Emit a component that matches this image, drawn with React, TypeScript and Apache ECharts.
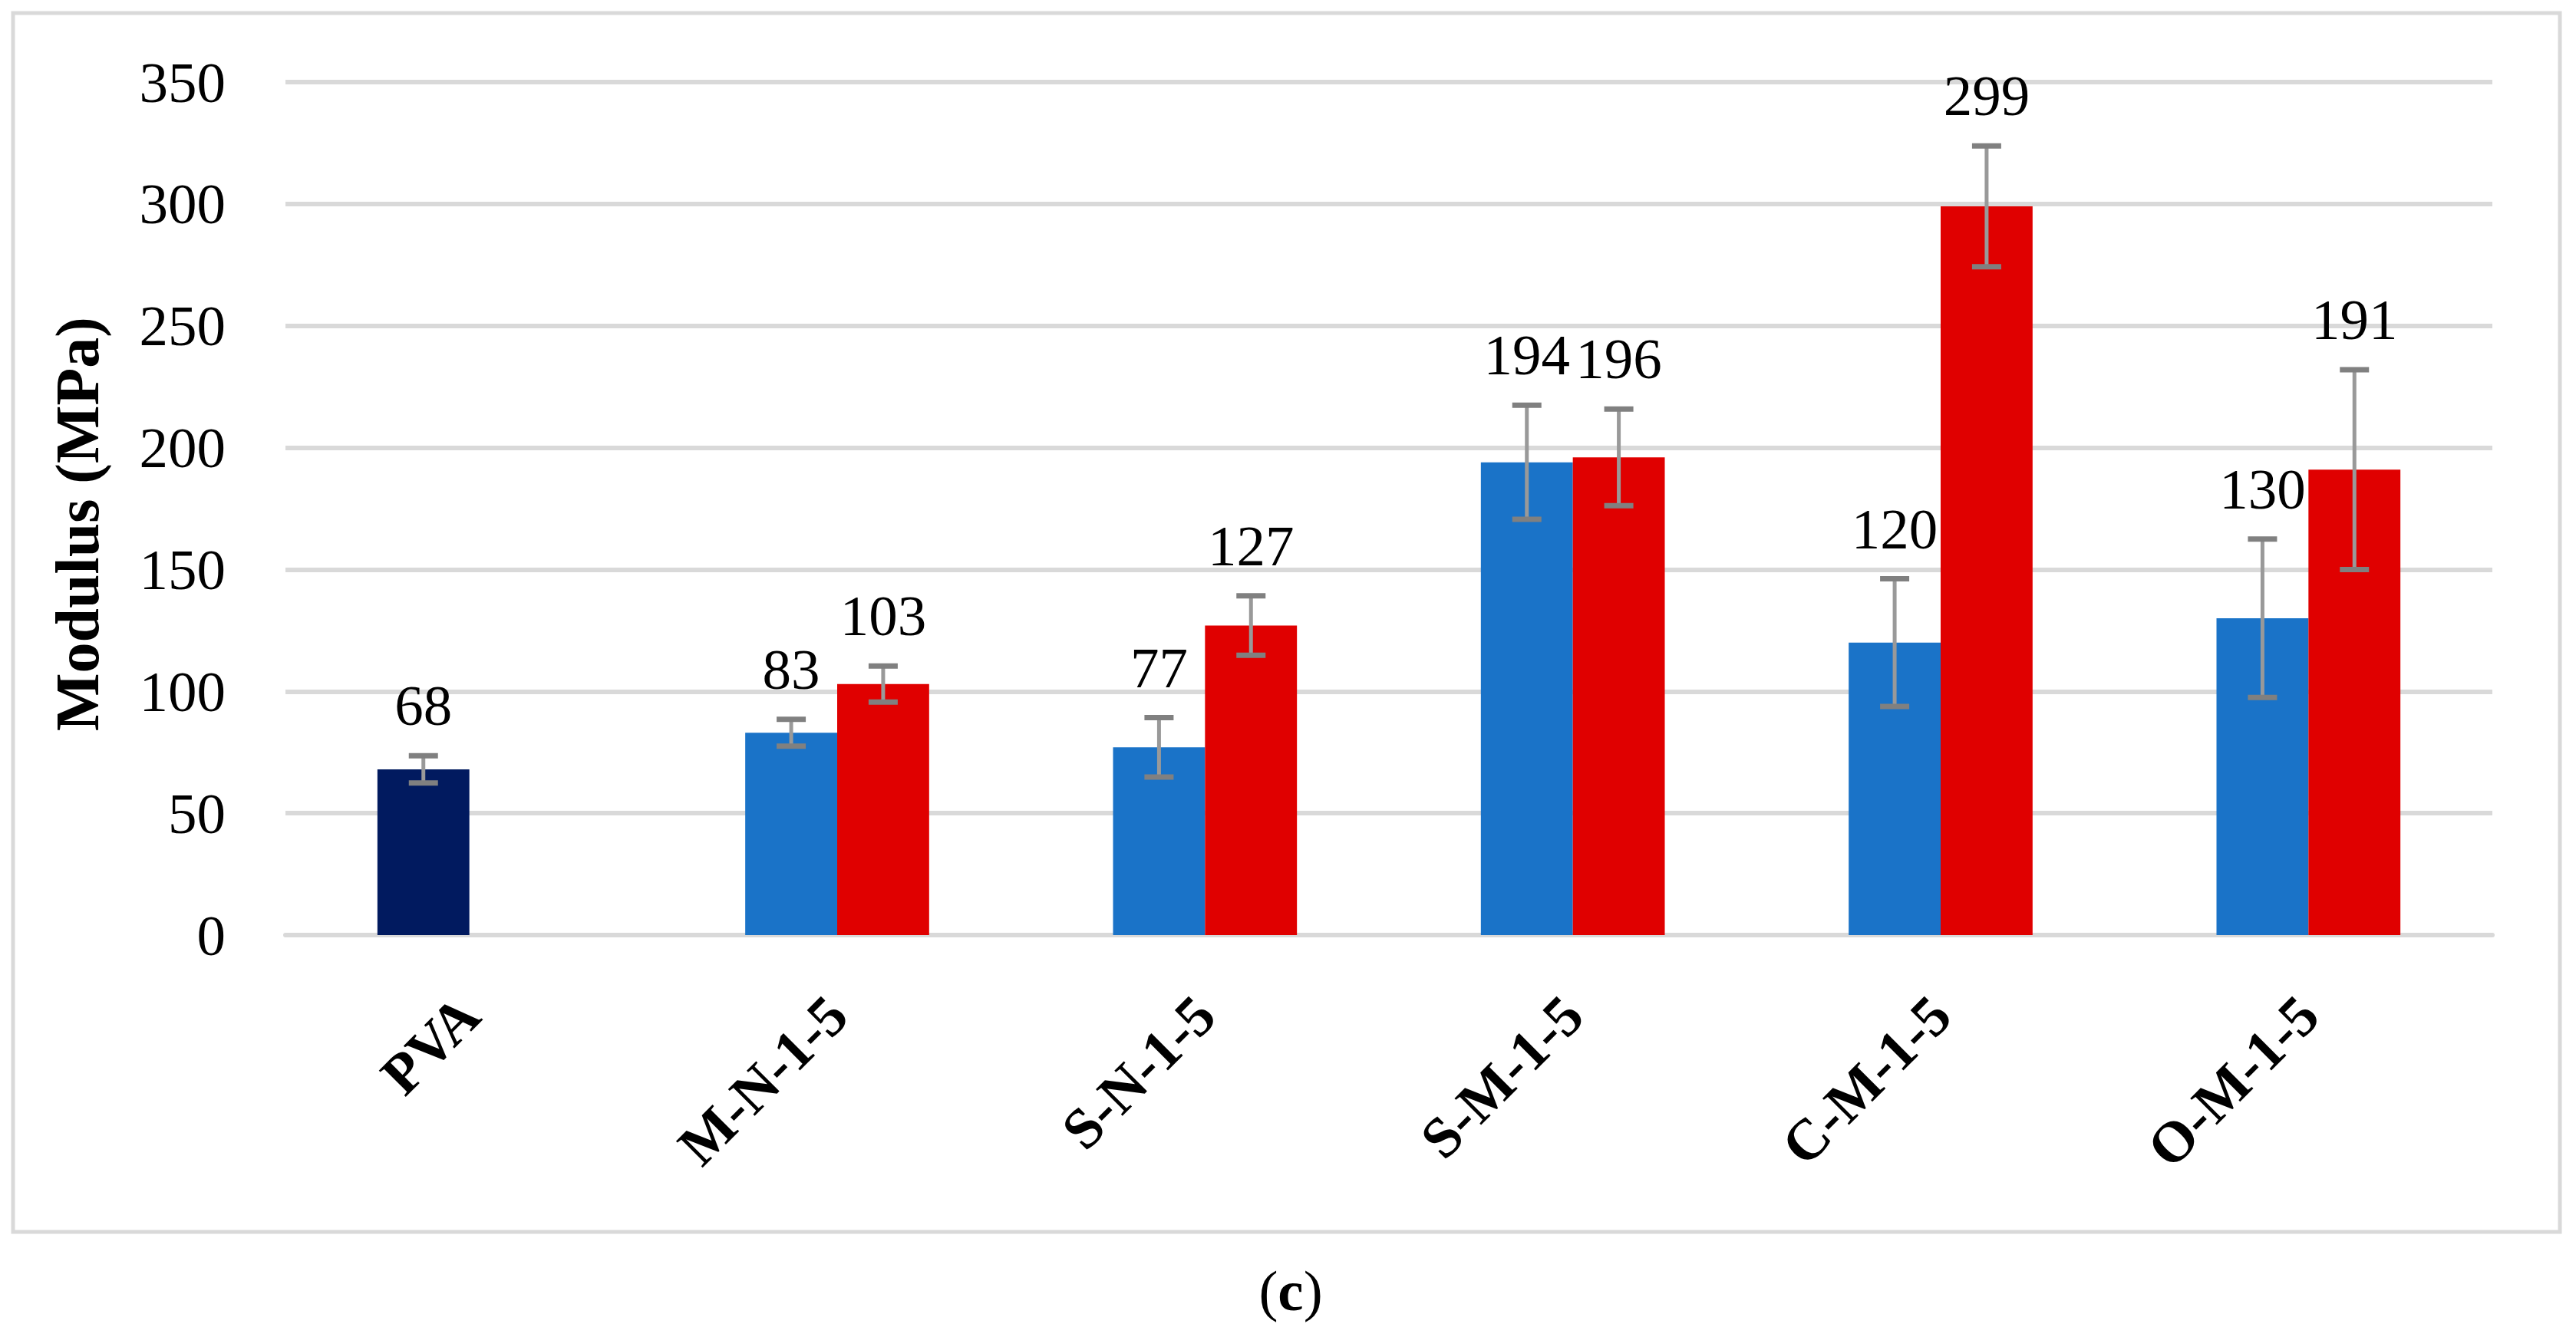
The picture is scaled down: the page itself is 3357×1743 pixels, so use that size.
import React, { useEffect, useRef } from "react";
import * as echarts from "echarts";

const categories = ["PVA", "M-N-1-5", "S-N-1-5", "S-M-1-5", "C-M-1-5", "O-M-1-5"];
const blueValues = [68, 83, 77, 194, 120, 130];
const redValues: (number | null)[] = [null, 103, 127, 196, 299, 191];
const blueErrors = [5.6, 5.5, 12.2, 23.4, 26.2, 32.5];
const redErrors: (number | null)[] = [null, 7.4, 12.2, 19.8, 24.8, 41];
const yMin = 0;
const yMax = 350;
const yInterval = 50;

const NAVY = "#011A5F";
const BLUE = "#1A73C8";
const RED = "#E00000";
const GRID = "#D9D9D9";
const FONT = "'Liberation Serif', 'Times New Roman', serif";

function makeErrRender(sign: number) {
  return (params: any, api: any) => {
    const idx = api.value(0);
    const val = api.value(1);
    const err = api.value(2);
    const catW = api.size([1, 0])[0];
    const base = api.coord([idx, val]);
    const x = base[0] + (sign * catW) / 8;
    const yTop = api.coord([idx, val + err])[1];
    const yBot = api.coord([idx, val - err])[1];
    const capHalf = 19;
    return {
      type: "group",
      children: [
        {
          type: "line",
          shape: { x1: x, y1: yTop, x2: x, y2: yBot },
          style: { stroke: "#999999", lineWidth: 5 },
        },
        {
          type: "line",
          shape: { x1: x - capHalf, y1: yTop, x2: x + capHalf, y2: yTop },
          style: { stroke: "#808080", lineWidth: 7 },
        },
        {
          type: "line",
          shape: { x1: x - capHalf, y1: yBot, x2: x + capHalf, y2: yBot },
          style: { stroke: "#808080", lineWidth: 7 },
        },
        {
          type: "text",
          style: {
            text: String(val),
            x,
            y: yTop - 28,
            align: "center",
            verticalAlign: "bottom",
            fontSize: 75,
            fontFamily: FONT,
            fill: "#000000",
          },
        },
      ],
    };
  };
}

export default function App() {
  const ref = useRef<HTMLDivElement>(null);
  useEffect(() => {
    if (!ref.current) return;
    const chart = echarts.init(ref.current, undefined, { renderer: "svg" });
    const blueData = blueValues.map((v, i) =>
      i === 0 ? { value: v, itemStyle: { color: NAVY } } : v
    );
    const redData = redValues.map((v) => (v == null ? "-" : v));
    const blueErrData = blueValues.map((v, i) => [i, v, blueErrors[i]]);
    const redErrData: any[] = [];
    redValues.forEach((v, i) => {
      if (v != null && redErrors[i] != null) redErrData.push([i, v, redErrors[i]]);
    });
    chart.setOption({
      animation: false,
      backgroundColor: "#ffffff",
      grid: { left: 372, right: 109, top: 107, bottom: 524, containLabel: false },
      xAxis: {
        type: "category",
        data: categories,
        axisLine: { show: true, lineStyle: { color: GRID, width: 6 } },
        axisTick: { show: false },
        axisLabel: {
          rotate: 45,
          margin: 92,
          fontSize: 75,
          fontWeight: "bold",
          fontFamily: FONT,
          color: "#000000",
          interval: 0,
        },
      },
      yAxis: {
        type: "value",
        min: yMin,
        max: yMax,
        interval: yInterval,
        axisLine: { show: false },
        axisTick: { show: false },
        splitLine: { show: true, lineStyle: { color: GRID, width: 6 } },
        axisLabel: {
          margin: 78,
          fontSize: 75,
          fontFamily: FONT,
          color: "#000000",
        },
      },
      series: [
        {
          type: "bar",
          data: blueData,
          itemStyle: { color: BLUE },
          barGap: "0%",
          barCategoryGap: "50%",
        },
        {
          type: "bar",
          data: redData,
          itemStyle: { color: RED },
          barGap: "0%",
          barCategoryGap: "50%",
        },
        {
          type: "custom",
          coordinateSystem: "cartesian2d",
          renderItem: makeErrRender(-1),
          data: blueErrData,
          encode: { x: 0, y: 1 },
          z: 5,
        },
        {
          type: "custom",
          coordinateSystem: "cartesian2d",
          renderItem: makeErrRender(1),
          data: redErrData,
          encode: { x: 0, y: 1 },
          z: 5,
        },
      ],
      graphic: [
        {
          type: "rect",
          shape: { x: 17, y: 17, width: 3319, height: 1589 },
          style: { fill: "none", stroke: GRID, lineWidth: 5 },
          silent: true,
        },
        {
          type: "text",
          x: 101,
          y: 683,
          rotation: Math.PI / 2,
          style: {
            text: "Modulus (MPa)",
            align: "center",
            verticalAlign: "middle",
            fontSize: 80,
            fontWeight: "bold",
            fontFamily: FONT,
            fill: "#000000",
          },
        },
        {
          type: "text",
          x: 1682,
          y: 1682,
          style: {
            text: "({b|c})",
            align: "center",
            verticalAlign: "middle",
            fontSize: 75,
            fontFamily: FONT,
            fill: "#000000",
            rich: {
              b: { fontSize: 75, fontWeight: "bold", fontFamily: FONT, fill: "#000000" },
            },
          },
        },
      ],
    });
    return () => chart.dispose();
  }, []);
  return (
    <div
      ref={ref}
      style={{ position: "fixed", left: 0, top: 0, width: 3357, height: 1743, background: "#fff" }}
    />
  );
}
